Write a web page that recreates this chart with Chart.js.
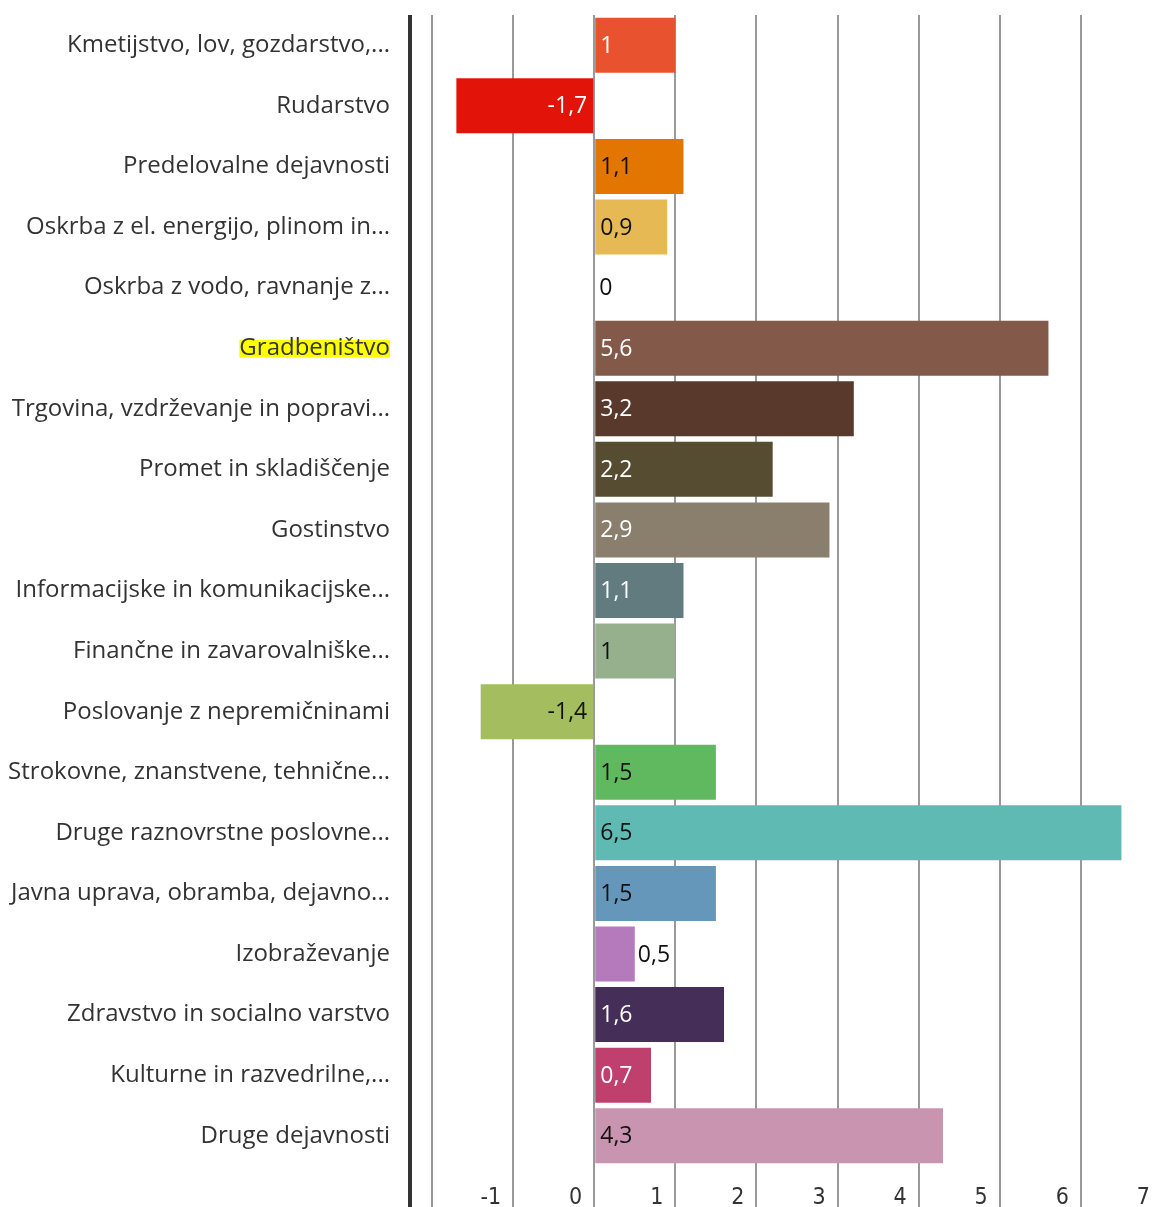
<!DOCTYPE html>
<html>
<head>
<meta charset="utf-8">
<script src="https://cdn.jsdelivr.net/npm/chart.js@4"></script>
<style>
  html, body { margin: 0; padding: 0; background: #fff; overflow: hidden; }
  #wrap { width: 1162px; height: 1207px; }
</style>
</head>
<body>
<div id="wrap"><canvas id="graf"></canvas></div>
<script>
const dejavnosti = [
  'Kmetijstvo, lov, gozdarstvo,...', 'Rudarstvo', 'Predelovalne dejavnosti',
  'Oskrba z el. energijo, plinom in...', 'Oskrba z vodo, ravnanje z...', 'Gradbeništvo',
  'Trgovina, vzdrževanje in popravi...', 'Promet in skladiščenje', 'Gostinstvo',
  'Informacijske in komunikacijske...', 'Finančne in zavarovalniške...', 'Poslovanje z nepremičninami',
  'Strokovne, znanstvene, tehnične...', 'Druge raznovrstne poslovne...', 'Javna uprava, obramba, dejavno...',
  'Izobraževanje', 'Zdravstvo in socialno varstvo', 'Kulturne in razvedrilne,...', 'Druge dejavnosti'
];
const vrednosti = [1, -1.7, 1.1, 0.9, 0, 5.6, 3.2, 2.2, 2.9, 1.1, 1, -1.4, 1.5, 6.5, 1.5, 0.5, 1.6, 0.7, 4.3];
const mrezaX = [-2, -1, 0, 1, 2, 3, 4, 5, 6, 7];
const oznakeX = [-1, 0, 1, 2, 3, 4, 5, 6, 7];
const barve = ['#e8522f', '#e2140a', '#e27600', '#e6b954', '#cccccc', '#83594a', '#58392b', '#554c31',
  '#8a7e6c', '#617b7e', '#96af8c', '#a3bd5f', '#61b95f', '#5fbab3', '#6597bb', '#b57abc', '#452f58',
  '#bf406c', '#c894b0'];
const beleOznake = [0, 1, 5, 6, 7, 8, 9, 16, 17];
const poudarjena = 5;

const xMin = -2.2716, xMax = 7;
const pisava = "'Open Sans', 'Noto Sans', sans-serif";

const oznakePlugin = {
  id: 'oznake',
  afterDatasetsDraw(chart) {
    const ctx = chart.ctx;
    const meta = chart.getDatasetMeta(0);
    ctx.save();
    ctx.font = '23px ' + pisava;
    ctx.textBaseline = 'middle';
    meta.data.forEach((bar, i) => {
      const v = vrednosti[i];
      const txt = String(v).replace('.', ',');
      const w = ctx.measureText(txt).width;
      let color = beleOznake.includes(i) ? '#ffffff' : '#111111';
      if (v < 0) {
        ctx.textAlign = 'right';
        ctx.fillStyle = color;
        ctx.fillText(txt, bar.base - 6, bar.y + 1);
      } else {
        ctx.textAlign = 'left';
        let x = bar.base + 5;
        if (v > 0 && w + 8 > bar.x - bar.base) { x = bar.x + 3; color = '#111111'; }
        if (v === 0) color = '#111111';
        ctx.fillStyle = color;
        ctx.fillText(txt, x, bar.y + 1);
      }
    });
    ctx.restore();
  }
};

new Chart(document.getElementById('graf'), {
  type: 'bar',
  data: {
    labels: dejavnosti,
    datasets: [{
      data: vrednosti,
      backgroundColor: barve,
      borderWidth: 0,
      barPercentage: 0.908,
      categoryPercentage: 1
    }]
  },
  options: {
    indexAxis: 'y',
    responsive: true,
    maintainAspectRatio: false,
    animation: false,
    layout: {padding: {top: 15, bottom: 0, left: 0, right: 0}},
    plugins: {legend: {display: false}, tooltip: {enabled: false}},
    scales: {
      x: {
        min: xMin,
        max: xMax,
        border: {display: false},
        afterBuildTicks: (scale) => {
          scale.ticks = [xMin].concat(mrezaX).map(v => ({value: v}));
        },
        afterFit: (scale) => { scale.height = 41; },
        ticks: {
          autoSkip: false,
          align: 'end',
          labelOffset: -12,
          padding: -23,
          color: '#333',
          font: {family: "'Liberation Sans Narrow', 'DejaVu Sans Condensed', sans-serif", size: 23},
          callback: (v) => oznakeX.includes(v) ? String(v) : ''
        },
        grid: {
          tickLength: 41,
          color: (c) => c.tick && c.tick.value === xMin ? '#333333' : '#999999',
          lineWidth: (c) => c.tick && c.tick.value === xMin ? 4 : 2
        }
      },
      y: {
        border: {display: false},
        grid: {display: false, drawTicks: false},
        afterFit: (scale) => {
          scale.width = 410;
          scale.paddingTop = 0;
          scale.paddingBottom = 0;
        },
        ticks: {
          padding: 20,
          color: '#333',
          font: {family: pisava, size: 24},
          showLabelBackdrop: (c) => c.index === poudarjena,
          backdropColor: (c) => c.index === poudarjena ? '#ffff00' : 'rgba(0,0,0,0)',
          backdropPadding: {top: -6, bottom: -5, left: 0, right: 0}
        }
      }
    }
  },
  plugins: [oznakePlugin]
});
</script>
</body>
</html>
